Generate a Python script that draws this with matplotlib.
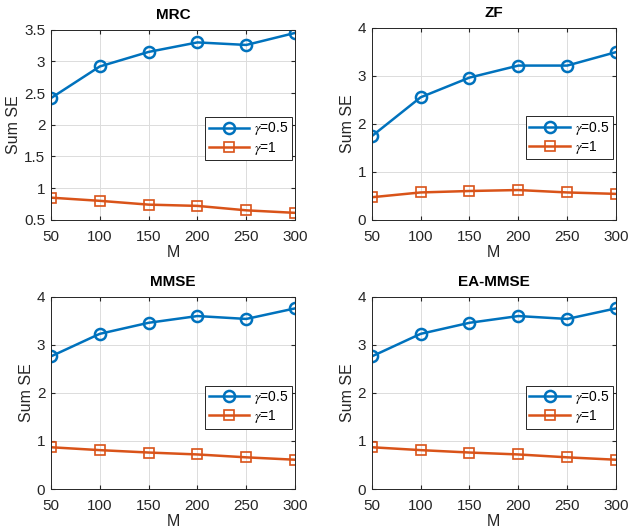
import numpy as np
import matplotlib.pyplot as plt

plt.rcParams['font.family'] = ['Liberation Sans', 'DejaVu Sans']
plt.rcParams['mathtext.fontset'] = 'stix'

M = [50, 100, 150, 200, 250, 300]
titles = ['MRC', 'ZF', 'MMSE', 'EA-MMSE']
labels = [r'$\gamma$=0.5', r'$\gamma$=1']

mrc_g05 = [2.42, 2.92, 3.15, 3.30, 3.26, 3.45]
mrc_g1 = [0.85, 0.80, 0.74, 0.72, 0.65, 0.61]
zf_g05 = [1.74, 2.55, 2.96, 3.21, 3.21, 3.49]
zf_g1 = [0.47, 0.57, 0.60, 0.62, 0.57, 0.54]
mmse_g05 = [2.76, 3.23, 3.46, 3.60, 3.54, 3.76]
mmse_g1 = [0.87, 0.81, 0.76, 0.72, 0.66, 0.61]
eammse_g05 = [2.76, 3.23, 3.46, 3.60, 3.54, 3.76]
eammse_g1 = [0.87, 0.81, 0.76, 0.72, 0.66, 0.61]

series = [(mrc_g05, mrc_g1), (zf_g05, zf_g1), (mmse_g05, mmse_g1), (eammse_g05, eammse_g1)]
ylims = [(0.5, 3.5), (0, 4), (0, 4), (0, 4)]
yticks = [np.arange(0.5, 3.51, 0.5), np.arange(0, 4.1, 1), np.arange(0, 4.1, 1), np.arange(0, 4.1, 1)]

# axes positions in figure fractions
positions = [
    [0.081, 0.586, 0.389, 0.358],
    [0.592, 0.586, 0.389, 0.362],
    [0.081, 0.079, 0.389, 0.362],
    [0.592, 0.079, 0.389, 0.362],
]

blue = '#0072BD'
orange = '#D95319'
dark = '#262626'

fig = plt.figure(figsize=(6.28, 5.31), dpi=100)
for i in range(4):
    ax = fig.add_axes(positions[i])
    g05, g1 = series[i]
    ax.plot(M, g05, '-o', color=blue, lw=1.8, ms=8, mfc='none', mew=1.8, label=labels[0])
    ax.plot(M, g1, '-s', color=orange, lw=1.8, ms=6.5, mfc='none', mew=1.2, label=labels[1])
    ax.set_xlim(50, 300)
    ax.set_ylim(*ylims[i])
    ax.set_xticks(M)
    ax.set_yticks(yticks[i])
    ax.set_yticklabels(['%g' % v for v in yticks[i]])
    ax.grid(True, color='#dcdcdc', lw=0.7)
    ax.set_axisbelow(True)
    ax.tick_params(direction='in', top=True, right=True, labelsize=11, colors=dark, length=3)
    ax.tick_params(axis='x', pad=7)
    ax.tick_params(axis='y', pad=4)
    for sp in ax.spines.values():
        sp.set_color(dark)
        sp.set_linewidth(0.7)
    ax.set_title(titles[i], fontsize=11, fontweight='bold', pad=8)
    ax.set_xlabel('M', fontsize=11.5, color=dark, labelpad=1)
    ax.set_ylabel('Sum SE', fontsize=11.5, color=dark, labelpad=2)
    leg = ax.legend(loc='lower right', bbox_to_anchor=(1.0, 0.3), fontsize=10,
                    fancybox=False, framealpha=1, edgecolor=dark,
                    handlelength=2.9, handletextpad=0.4, borderpad=0.25,
                    labelspacing=0.15, borderaxespad=0.2)
    leg.get_frame().set_linewidth(0.7)

fig.savefig('out.png', dpi=100)
